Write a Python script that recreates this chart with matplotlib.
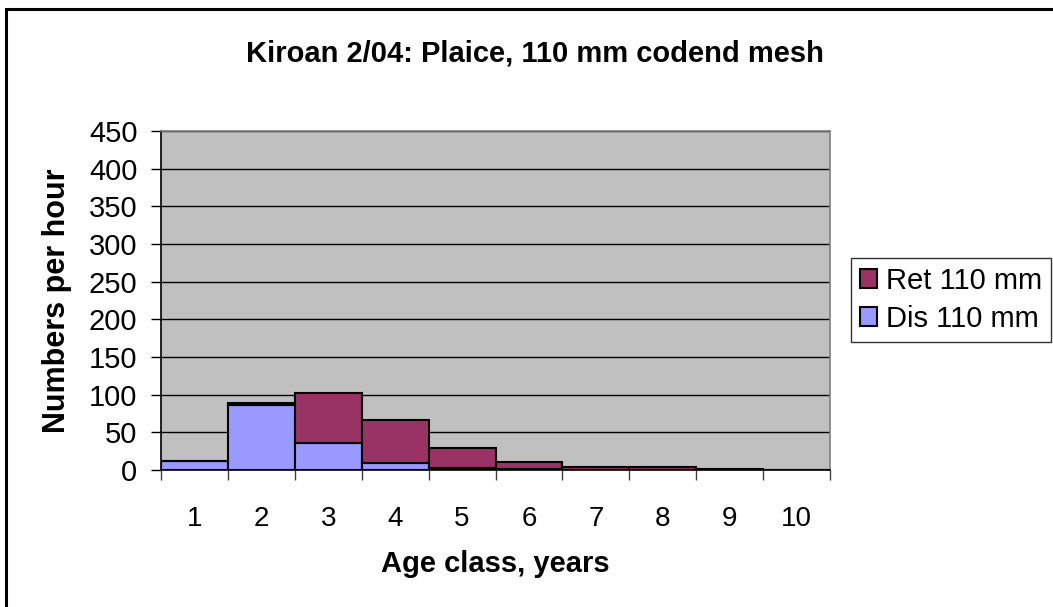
import matplotlib
matplotlib.use('Agg')
import matplotlib.pyplot as plt
from matplotlib.patches import Rectangle
import numpy as np

# Data
ages = ['1', '2', '3', '4', '5', '6', '7', '8', '9', '10']
dis_110 = [12, 86, 36, 9, 3, 1, 0, 0, 0, 0]
ret_110 = [0, 3, 66, 57, 26, 10, 4.5, 4.5, 1.5, 0]

title = 'Kiroan 2/04: Plaice, 110 mm codend mesh'
W, H = 1053, 607

plt.rcParams['font.family'] = ['Liberation Sans', 'DejaVu Sans']

fig = plt.figure(figsize=(W / 100, H / 100), dpi=100)
fig.patch.set_facecolor('white')

# outer chart border (right/bottom run off the image)
fig.add_artist(Rectangle((6 / W, -0.1), 1.2, 1 - 9 / H + 0.1,
                         transform=fig.transFigure, fill=False,
                         edgecolor='black', linewidth=2.2))

ax = fig.add_axes([161 / W, 1 - 470 / H, (830 - 161) / W, (470 - 131) / H])
ax.set_facecolor('#C0C0C0')

x = np.arange(len(ages))
ax.bar(x, dis_110, width=1.0, color='#9999FF', edgecolor='black',
       linewidth=1.5, label='Dis 110 mm', zorder=3)
ax.bar(x, ret_110, width=1.0, bottom=dis_110, color='#993366',
       edgecolor='black', linewidth=1.5, label='Ret 110 mm', zorder=3)

ax.set_xlim(-0.5, len(ages) - 0.5)
ax.set_ylim(0, 450)
ax.set_yticks(range(0, 451, 50))
ax.yaxis.grid(True, color='black', linewidth=1.0, zorder=1)
ax.set_axisbelow(True)

ax.set_xticks(x)
ax.set_xticklabels(ages)
ax.set_xticks(np.arange(-0.5, len(ages)), minor=True)
ax.tick_params(axis='x', which='major', length=0, pad=26, labelsize=20)
ax.tick_params(axis='x', which='minor', length=7, width=1, color='#404040')
ax.tick_params(axis='y', length=7, width=1, pad=10, labelsize=21)

for side in ['top', 'right']:
    ax.spines[side].set_color('#808080')
    ax.spines[side].set_linewidth(1.2)
ax.spines['left'].set_linewidth(1.2)
ax.spines['bottom'].set_linewidth(1.2)

ax.set_ylabel('Numbers per hour', fontsize=22, fontweight='bold', labelpad=12)
ax.set_xlabel('Age class, years', fontsize=21, fontweight='bold', labelpad=13)

fig.text(535 / W, 1 - 53 / H, title, ha='center', va='center',
         fontsize=21, fontweight='bold')

handles, labels = ax.get_legend_handles_labels()
leg = fig.legend(handles[::-1], labels[::-1], loc='upper left',
                 bbox_to_anchor=(851 / W, 1 - 258 / H), fontsize=21,
                 frameon=True, fancybox=False, edgecolor='black',
                 handlelength=0.6, handleheight=0.6, handletextpad=0.3,
                 borderpad=0.3, labelspacing=0.35, borderaxespad=0)
leg.get_frame().set_linewidth(1.0)

fig.savefig('out.png', dpi=100)
